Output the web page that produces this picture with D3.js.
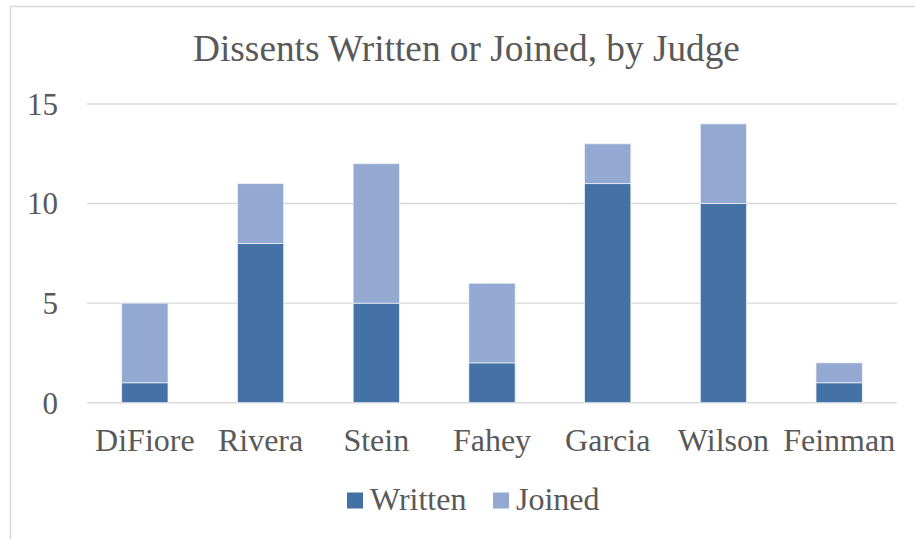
<!DOCTYPE html>
<html><head><meta charset="utf-8">
<script src="https://cdn.jsdelivr.net/npm/d3@7"></script>
<style>html,body{margin:0;padding:0;background:#fff;}svg{display:block;}</style>
</head><body><svg id="c" width="915" height="539"></svg>
<script>
const judges = ["DiFiore","Rivera","Stein","Fahey","Garcia","Wilson","Feinman"];
const written = [1,8,5,2,11,10,1];
const joined = [4,3,7,4,2,4,1];
const seriesNames = ["Written","Joined"];
const seriesColors = ["#4472a6","#94a9d1"];
const yTicks = [0,5,10,15];
const title = "Dissents Written or Joined, by Judge";

const FONT = "Liberation Serif";
const TXT = "#595959";
const svg = d3.select("#c");
svg.append("rect").attr("x",10.5).attr("y",6.5).attr("width",1000).attr("height",1000)
  .attr("fill","#fff").attr("stroke","#d9d9d9").attr("stroke-width",1.5);

const m = {l:87, r:897, t:104, b:402.7};
const x = d3.scaleBand().domain(judges).range([m.l,m.r]).paddingInner(0.6).paddingOuter(0.3);
const y = d3.scaleLinear().domain([0,15]).range([m.b,m.t]);

svg.append("g").selectAll("line").data(yTicks).join("line")
  .attr("x1",m.l).attr("x2",m.r).attr("y1",d=>y(d)).attr("y2",d=>y(d))
  .attr("stroke","#d9d9d9").attr("stroke-width",1.4);

function styl(sel, size){ return sel.style("font-family",FONT).style("font-size",size+"px").attr("fill",TXT); }

styl(svg.append("g").selectAll("text").data(yTicks).join("text")
  .attr("x",58).attr("y",d=>y(d)).attr("dy","0.35em").attr("text-anchor","end"),31).text(d=>d);

const rows = judges.map((j,i)=>({judge:j, Written:written[i], Joined:joined[i]}));
const stack = d3.stack().keys(seriesNames)(rows);
svg.append("g").selectAll("g").data(stack).join("g")
  .attr("fill",(d,i)=>seriesColors[i])
  .selectAll("rect").data(d=>d).join("rect")
  .attr("x",d=>x(d.data.judge)).attr("width",x.bandwidth())
  .attr("y",d=>y(d[1])).attr("height",d=>y(d[0])-y(d[1]))
  .attr("stroke","#eef1f7").attr("stroke-width",0.75);

styl(svg.append("g").selectAll("text").data(judges).join("text")
  .attr("x",d=>x(d)+x.bandwidth()/2).attr("y",451).attr("text-anchor","middle"),32).text(d=>d);

styl(svg.append("text").attr("x",466.5).attr("y",60.5).attr("text-anchor","middle"),37.3).text(title);

const legX = [347, 493];
const lg = svg.append("g").selectAll("g").data(seriesNames).join("g")
  .attr("transform",(d,i)=>`translate(${legX[i]},0)`);
lg.append("rect").attr("x",0).attr("y",492.5).attr("width",16).attr("height",16)
  .attr("fill",(d,i)=>seriesColors[i]);
styl(lg.append("text").attr("x",23).attr("y",510),32).text(d=>d);
</script></body></html>
